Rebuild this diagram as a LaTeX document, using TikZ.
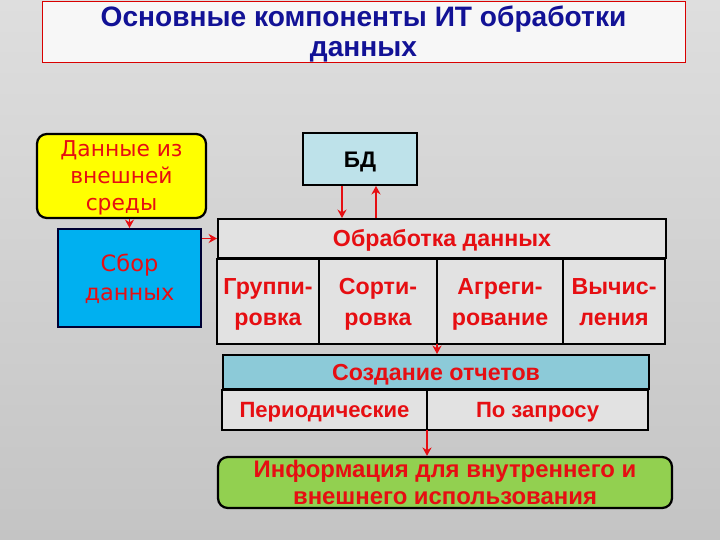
\documentclass[tikz,border=0pt]{standalone}
\usepackage{fontspec}
\setmainfont{Liberation Sans}
\newfontfamily\widefont{DejaVu Sans}
\usetikzlibrary{positioning,arrows.meta}

\definecolor{txtred}{RGB}{230,14,18}
\definecolor{titleblue}{RGB}{18,18,150}
\definecolor{bgtop}{RGB}{222,222,222}
\definecolor{bgbot}{RGB}{196,196,196}
\definecolor{extyellow}{RGB}{255,255,0}
\definecolor{sborblue}{RGB}{0,176,240}
\definecolor{dbcyan}{RGB}{190,226,234}
\definecolor{repcyan}{RGB}{140,202,216}
\definecolor{cellgray}{RGB}{226,226,226}
\definecolor{infogreen}{RGB}{146,208,80}

% a line of text as tall as its capitals, so that nodes centre on the caps
\newcommand{\capline}[1]{\rule{0pt}{0.72em}\smash{#1}}

\begin{document}
\begin{tikzpicture}[
			every node/.style={align=center, inner sep=0pt},
			titlebox/.style={rectangle, draw=red!85!black, line width=0.6pt, fill=white!94!gray,
				text=titleblue, font=\fontsize{20}{21.5}\selectfont\bfseries,
				minimum width=16.075cm, minimum height=1.52cm},
			extbox/.style={rectangle, rounded corners=7pt, draw=black, line width=1.6pt, fill=extyellow,
				text=txtred, font=\widefont\fontsize{15.5}{19.2}\selectfont,
				minimum width=4.225cm, minimum height=2.1cm},
			sborbox/.style={rectangle, draw=black!80!blue, line width=1.4pt, fill=sborblue,
				text=txtred, font=\widefont\fontsize{16}{20.5}\selectfont,
				minimum width=3.575cm, minimum height=2.45cm},
			dbbox/.style={rectangle, draw=black, line width=1.4pt, fill=dbcyan,
				text=black, font=\fontsize{16}{19}\selectfont\bfseries,
				minimum width=2.85cm, minimum height=1.3cm},
			headbox/.style={rectangle, draw=black, line width=1.4pt, fill=cellgray,
				text=txtred, font=\fontsize{16.5}{19}\selectfont\bfseries,
				minimum width=11.2cm, minimum height=0.975cm},
			cellbox/.style={rectangle, draw=black, line width=1.4pt, fill=cellgray, outer sep=0pt,
				text=txtred, font=\fontsize{16.5}{22}\selectfont\bfseries,
				minimum height=2.125cm},
			repbox/.style={rectangle, draw=black, line width=1.4pt, fill=repcyan,
				text=txtred, font=\fontsize{16.5}{19}\selectfont\bfseries,
				minimum width=10.65cm, minimum height=0.85cm},
			subbox/.style={rectangle, draw=black, line width=1.4pt, fill=cellgray, outer sep=0pt,
				text=txtred, font=\fontsize{15.7}{18}\selectfont\bfseries,
				minimum height=1.0cm},
			infobox/.style={rectangle, rounded corners=7pt, draw=black, line width=1.6pt, fill=infogreen,
				text=txtred, font=\fontsize{17}{19.5}\selectfont\bfseries,
				minimum width=11.35cm, minimum height=1.275cm},
			arr/.style={draw=txtred, line width=1.3pt, -{Stealth[length=6pt,width=6.5pt]}},
			]
			
			% background
			\useasboundingbox (0,0) rectangle (18,-13.5);
			\shade[top color=bgtop, bottom color=bgbot] (0,0) rectangle (18,-13.5);
			
			\node[titlebox] (title) at (9.0875,-0.79) {\capline{Основные компоненты ИТ обработки}\\\capline{данных}};
			
			% left column
			\node[extbox] (ext) at (3.0375,-4.4) {\capline{Данные из}\\\capline{внешней}\\\capline{среды}};
			\node[sborbox] (sbor) at (3.2375,-6.95) {\capline{Сбор}\\\capline{данных}};
			
			% data base and processing
			\node[dbbox] (bd) at (9.0,-3.975) {\capline{БД}};
			\node[headbox] (obr) at (11.05,-5.9625) {\capline{Обработка данных}};
			\node[cellbox, minimum width=2.55cm, anchor=north west] (grp) at (obr.south west) {\capline{Группи-}\\\capline{ровка}};
			\node[cellbox, minimum width=2.95cm, right=0pt of grp] (sort) {\capline{Сорти-}\\\capline{ровка}};
			\node[cellbox, minimum width=3.15cm, right=0pt of sort] (agr) {\capline{Агреги-}\\\capline{рование}};
			\node[cellbox, minimum width=2.55cm, right=0pt of agr] (vych) {\capline{Вычис-}\\\capline{ления}};
			
			% reports
			\node[repbox] (sozd) at (10.9,-9.3) {\capline{Создание отчетов}};
			\node[subbox, minimum width=5.125cm, anchor=north west] (per) at (sozd.south west) {\capline{Периодические}};
			\node[subbox, minimum width=5.525cm, right=0pt of per] (zap) {\capline{По запросу}};
			
			\node[infobox] (info) at (11.125,-12.0625) {\capline{Информация для внутреннего и}\\\capline{внешнего использования}};
			
			% connectors
			\draw[arr] (sbor.north |- ext.south) -- (sbor.north);
			\draw[arr] (sbor.east |- obr.west) -- (obr.west);
			\draw[arr] ([xshift=-0.45cm]bd.south) -- ([xshift=-0.45cm]bd.south |- obr.north);
			\draw[arr] ([xshift=0.4cm]bd.south |- obr.north) -- ([xshift=0.4cm]bd.south);
			\draw[arr] (agr.south west) -- (agr.south west |- sozd.north);
			\draw[arr] (per.south east) -- (per.south east |- info.north);
			
		\end{tikzpicture}
\end{document}
